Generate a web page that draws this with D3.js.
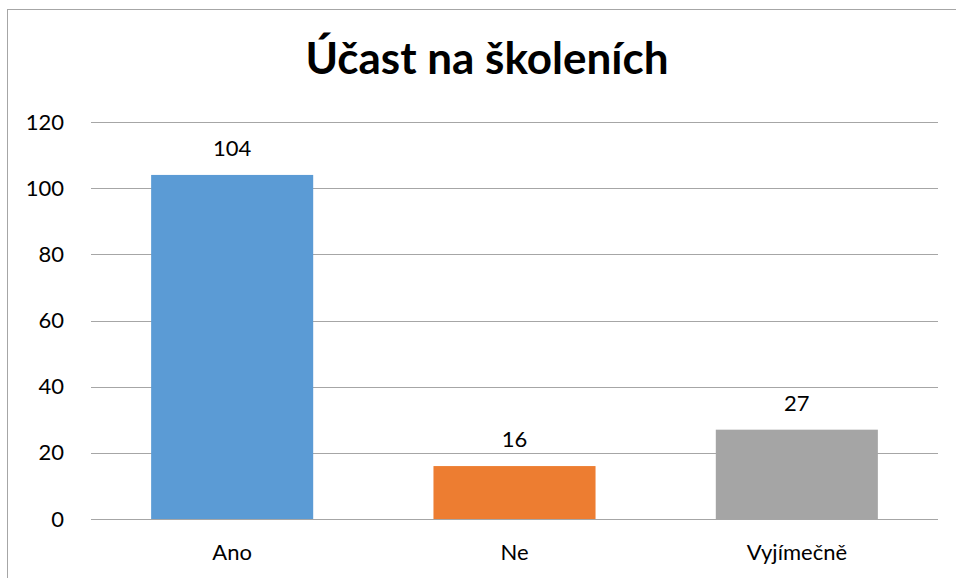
<!DOCTYPE html>
<html><head><meta charset="utf-8">
<script src="https://cdn.jsdelivr.net/npm/d3@7"></script>
<style>body{margin:0;background:#fff;} text{font-family:Lato,"Open Sans",sans-serif;}</style>
</head><body>
<svg id="c" width="956" height="578"></svg>
<script>
const categories = ["Ano", "Ne", "Vyjímečně"];
const values = [104, 16, 27];
const colors = ["#5B9BD5", "#ED7D31", "#A5A5A5"];
const yTicks = [0, 20, 40, 60, 80, 100, 120];
const title = "Účast na školeních";

const FONT = "Lato,'Open Sans',sans-serif";
const svg = d3.select("#c");
svg.append("rect").attr("x", 7.5).attr("y", 9.5).attr("width", 960).attr("height", 600)
  .attr("fill", "#fff").attr("stroke", "#A6A6A6").attr("stroke-width", 1);

const m = {left: 91, right: 938, top: 122, bottom: 519};
const x = d3.scaleBand().domain(categories).range([m.left, m.right]).paddingInner(0.426).paddingOuter(0.213);
const y = d3.scaleLinear().domain([0, 120]).range([m.bottom, m.top]);

// gridlines
svg.append("g").selectAll("line").data(yTicks).join("line")
  .attr("x1", m.left).attr("x2", m.right)
  .attr("y1", d => Math.round(y(d)) + 0.5).attr("y2", d => Math.round(y(d)) + 0.5)
  .attr("stroke", "#A6A6A6").attr("stroke-width", 1);

// y axis labels
const yAxis = d3.axisLeft(y).tickValues(yTicks).tickSize(0).tickPadding(0);
const ya = svg.append("g").attr("transform", `translate(64,0)`).call(yAxis);
ya.select(".domain").remove();
ya.selectAll("text").attr("font-size", 22).attr("fill", "#000").attr("font-family", FONT);

// bars
svg.append("g").selectAll("rect").data(values).join("rect")
  .attr("x", (d, i) => x(categories[i])).attr("width", x.bandwidth())
  .attr("y", d => y(d)).attr("height", d => y(0) - y(d))
  .attr("fill", (d, i) => colors[i]);

// data labels
svg.append("g").selectAll("text").data(values).join("text")
  .attr("x", (d, i) => x(categories[i]) + x.bandwidth() / 2)
  .attr("y", d => y(d) - 19)
  .attr("text-anchor", "middle").attr("font-size", 22).attr("fill", "#000")
  .attr("font-family", FONT)
  .text(d => d);

// x axis labels
const xAxis = d3.axisBottom(x).tickSize(0).tickPadding(0);
const xa = svg.append("g").attr("transform", `translate(0,${m.bottom + 25})`).call(xAxis);
xa.select(".domain").remove();
xa.selectAll("text").attr("font-size", 22).attr("fill", "#000").attr("font-family", FONT);

// title
svg.append("text").attr("x", 487).attr("y", 74).attr("text-anchor", "middle")
  .attr("font-size", 44).attr("font-weight", "bold").attr("fill", "#000")
  .attr("font-family", FONT)
  .text(title);
</script>
</body></html>
